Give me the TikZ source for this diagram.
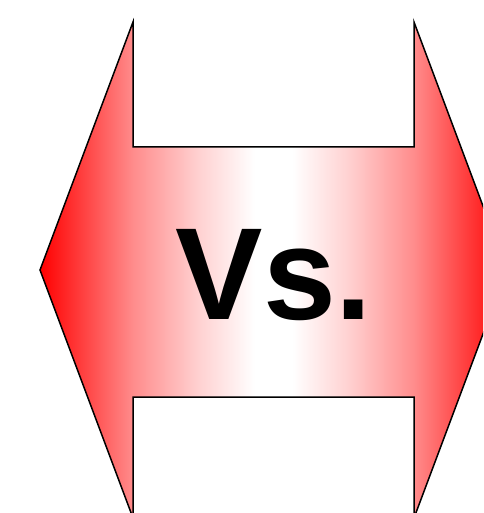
\documentclass[tikz,border=0pt]{standalone}
\usepackage{fontspec}
\setmainfont{Liberation Sans}
\usetikzlibrary{positioning}

\pgfdeclarehorizontalshading{vsfade}{100bp}{color(0bp)=(red); color(25bp)=(red); color(35bp)=(red!45); color(42bp)=(red!18); color(48bp)=(white); color(52bp)=(white); color(58bp)=(red!18); color(65bp)=(red!45); color(75bp)=(red); color(100bp)=(red)}

\begin{document}
\begin{tikzpicture}[x=1pt, y=-1pt, twoway/.style={draw, line width=1.5pt, line join=miter, shading=vsfade}, vstext/.style={font=\bfseries\fontsize{131}{131}\selectfont, inner sep=0pt}]
  \useasboundingbox (0,0) rectangle (483,513);
  \begin{scope}
    \clip (0,0) rectangle (483,513);
    \draw[twoway] (40,270) -- (133,22) -- (133,147) -- (414,147) -- (414,22) -- (507,270)
      -- (414,518) -- (414,397) -- (133,397) -- (133,518) -- cycle;
  \end{scope}
  \node[vstext] (vs) at (274,275) {Vs.};
\end{tikzpicture}
\end{document}
